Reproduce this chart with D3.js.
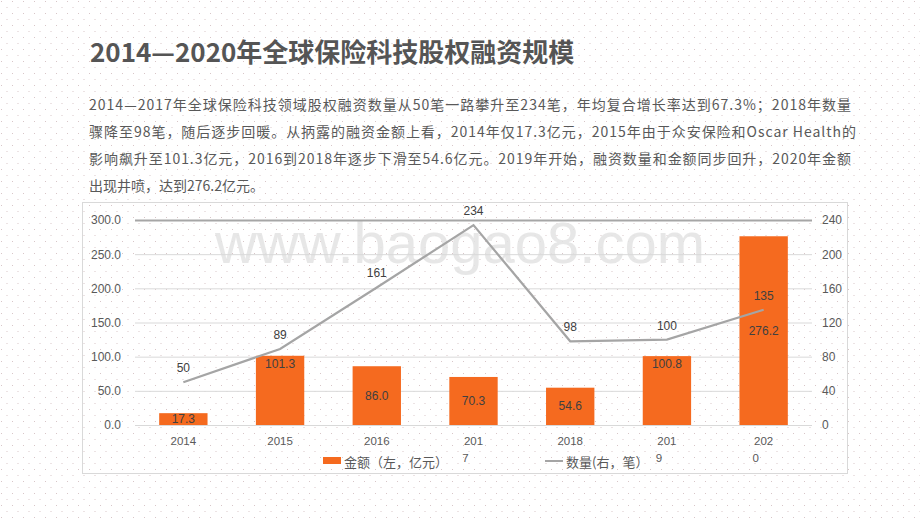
<!DOCTYPE html>
<html><head><meta charset="utf-8">
<script src="https://cdnjs.cloudflare.com/ajax/libs/d3/7.8.5/d3.min.js"></script>
<style>
html,body{margin:0;padding:0;background:#fff;}
svg{display:block;font-family:"Noto Sans CJK SC","Noto Sans",sans-serif;}
</style></head>
<body><svg id="c" width="920" height="518"></svg>
<script>
const years = ["2014","2015","2016","2017","2018","2019","2020"];
const yearLabels = [["2014"],["2015"],["2016"],["201","7"],["2018"],["201","9"],["202","0"]];
const amounts = [17.3, 101.3, 86.0, 70.3, 54.6, 100.8, 276.2];
const counts = [50, 89, 161, 234, 98, 100, 135];
const leftTicks = [0, 50, 100, 150, 200, 250, 300];
const rightTicks = [0, 40, 80, 120, 160, 200, 240];
const titleText = "2014—2020年全球保险科技股权融资规模";
const paraLines = [
  "2014—2017年全球保险科技领域股权融资数量从50笔一路攀升至234笔，年均复合增长率达到67.3%；2018年数量",
  "骤降至98笔，随后逐步回暖。从抦露的融资金额上看，2014年仅17.3亿元，2015年由于众安保险和Oscar Health的",
  "影响飙升至101.3亿元，2016到2018年逐步下滑至54.6亿元。2019年开始，融资数量和金额同步回升，2020年金额",
  "出现井喷，达到276.2亿元。"
];
const legendNames = ["金额（左，亿元）", "数量(右，笔）"];
const watermark = "www.baogao8.com";

const svg = d3.select("#c");
const defs = svg.append("defs");
const pat = defs.append("pattern").attr("id","dots").attr("patternUnits","userSpaceOnUse")
  .attr("width",11).attr("height",12);
pat.append("rect").attr("x",1).attr("y",1).attr("width",1).attr("height",1).attr("fill","#d8c6c8");
pat.append("rect").attr("x",6.5).attr("y",7).attr("width",1).attr("height",1).attr("fill","#d8c6c8");
svg.append("rect").attr("width",920).attr("height",518).attr("fill","url(#dots)");

// title
svg.append("text").attr("x",90).attr("y",62).attr("fill","#555").attr("font-weight","bold")
  .attr("font-size",26).text(titleText);

// paragraph
const lineW = [762, 767, 762, null];
paraLines.forEach((t,i)=>{
  const tx = svg.append("text").attr("x",89).attr("y",110+i*27).attr("fill","#595959")
    .attr("font-size",14).text(t);
  if(lineW[i]) tx.attr("textLength",lineW[i]).attr("lengthAdjust","spacing");
});

// chart frame
svg.append("rect").attr("x",82.5).attr("y",202.5).attr("width",765).attr("height",271)
  .attr("fill","none").attr("stroke","#d9d9d9");

// watermark
svg.append("text").attr("x",460).attr("y",263).attr("text-anchor","middle")
  .attr("font-family","Liberation Sans, Arial, sans-serif").attr("font-size",58)
  .attr("fill","#e3e3e3").attr("fill-opacity",0.85).text(watermark);

const x = d3.scaleBand().domain(years).range([135,812]).paddingInner(0.5).paddingOuter(0.25);
const yL = d3.scaleLinear().domain([0,300]).range([425,220]);
const yR = d3.scaleLinear().domain([0,240]).range([425,220]);

// gridlines
svg.append("g").selectAll("line").data(leftTicks).join("line")
  .attr("x1",135).attr("x2",812).attr("y1",d=>yL(d)+0.5).attr("y2",d=>yL(d)+0.5)
  .attr("stroke",d=>d===300?"#a6a6a6":"#d9d9d9").attr("stroke-width",d=>d===300?2:1);

// axes
const axL = d3.axisLeft(yL).tickValues(leftTicks).tickFormat(d3.format(".1f")).tickSize(0).tickPadding(14);
const gL = svg.append("g").attr("transform","translate(135,0)").call(axL);
gL.select(".domain").remove();
gL.selectAll("text").attr("font-size",12).attr("fill","#595959").attr("font-family","Liberation Sans, Arial, sans-serif");
const axR = d3.axisRight(yR).tickValues(rightTicks).tickSize(0).tickPadding(10);
const gR = svg.append("g").attr("transform","translate(812,0)").call(axR);
gR.select(".domain").remove();
gR.selectAll("text").attr("font-size",12).attr("fill","#595959").attr("font-family","Liberation Sans, Arial, sans-serif");

// bars
const orange = "#f56a1f";
svg.append("g").selectAll("rect").data(amounts).join("rect")
  .attr("x",(d,i)=>x(years[i])).attr("width",x.bandwidth())
  .attr("y",d=>yL(d)).attr("height",d=>yL(0)-yL(d)).attr("fill",orange);

// bar labels
const insideEnd = new Set(["2015","2019"]);
svg.append("g").selectAll("text").data(amounts).join("text")
  .attr("x",(d,i)=>x(years[i])+x.bandwidth()/2)
  .attr("y",(d,i)=> insideEnd.has(years[i]) ? yL(d)+12 : (yL(d)+yL(0))/2+4)
  .attr("text-anchor","middle").attr("font-size",12).attr("fill","#404040")
  .attr("font-family","Liberation Sans, Arial, sans-serif")
  .text(d=>d3.format(".1f")(d));

// line
const line = d3.line().x((d,i)=>x(years[i])+x.bandwidth()/2).y(d=>yR(d));
svg.append("path").datum(counts).attr("d",line).attr("fill","none")
  .attr("stroke","#a5a5a5").attr("stroke-width",2.2);
svg.append("g").selectAll("text").data(counts).join("text")
  .attr("x",(d,i)=>x(years[i])+x.bandwidth()/2).attr("y",d=>yR(d)-10)
  .attr("text-anchor","middle").attr("font-size",12).attr("fill","#404040")
  .attr("font-family","Liberation Sans, Arial, sans-serif").text(d=>d);

// x labels
const gx = svg.append("g");
yearLabels.forEach((parts,i)=>{
  const t = gx.append("text").attr("x",x(years[i])+x.bandwidth()/2).attr("y",445)
    .attr("text-anchor","middle").attr("font-size",11.5).attr("fill","#595959")
    .attr("font-family","Liberation Sans, Arial, sans-serif");
  parts.forEach((p,j)=>{
    const ts = t.append("tspan").text(p);
    if(j>0){ ts.attr("x",x(years[i])+x.bandwidth()/2 - 8).attr("dy",17); }
  });
});

// legend
svg.append("rect").attr("x",323).attr("y",457).attr("width",18).attr("height",7).attr("fill",orange);
svg.append("text").attr("x",344).attr("y",467).attr("font-size",13).attr("fill","#595959").text(legendNames[0]);
svg.append("line").attr("x1",545).attr("x2",563).attr("y1",461).attr("y2",461).attr("stroke","#a5a5a5").attr("stroke-width",2);
svg.append("text").attr("x",566).attr("y",467).attr("font-size",13).attr("fill","#595959").text(legendNames[1]);
</script></body></html>
